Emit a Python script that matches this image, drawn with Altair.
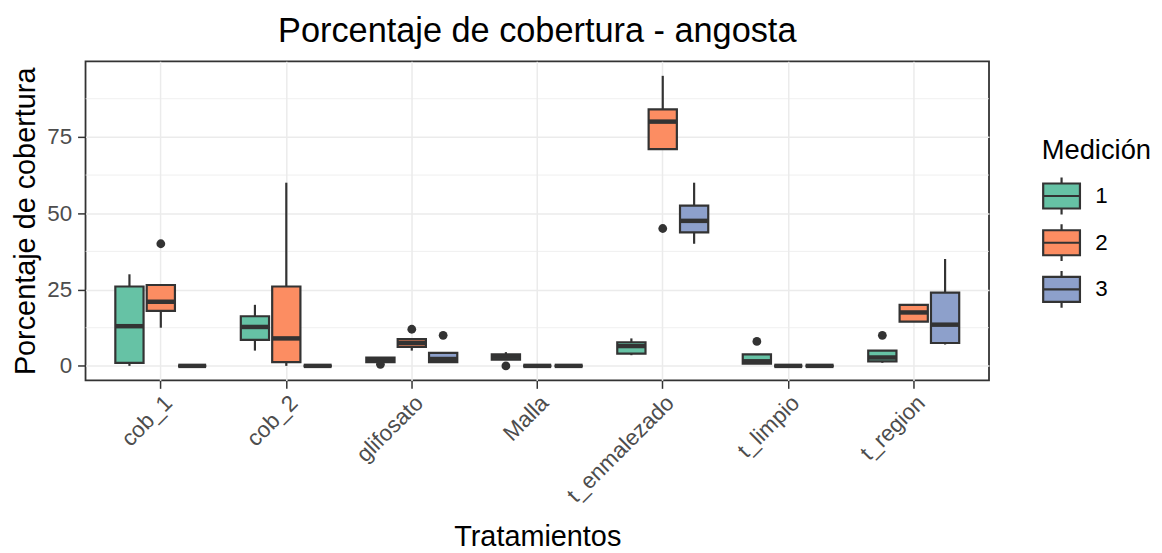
import altair as alt
import pandas as pd

tratamientos = ["cob_1", "cob_2", "glifosato", "Malla", "t_enmalezado", "t_limpio", "t_region"]
mediciones = ["1", "2", "3"]
colores = ["#66C2A5", "#FC8D62", "#8DA0CB"]

# one value per (tratamiento, medición), tratamiento-major order
bigote_inf = [0, 12.5, 0,   5, 0, 0,    1.25, 5, 1,     2, 0, 0,     3.5, 71, 40,     0.75, 0, 0,   1, 14.5, 7]
cuartil_1 = [1, 18, 0,     8.5, 1.25, 0, 1.25, 6.25, 1.25, 2, 0, 0,   4, 71, 43.75,    0.75, 0, 0,   1.5, 14.5, 7.5]
mediana = [13, 21, 0,      12.75, 9, 0,  2, 7.5, 2.25,   3, 0, 0,     6.5, 80, 47.5,   1.5, 0, 0,    2.75, 17.5, 13.5]
cuartil_3 = [26, 26.5, 0,  16.25, 26, 0, 2.75, 8.75, 4.25, 3.75, 0, 0, 7.75, 84, 52.5,   3.75, 0, 0,   5, 20, 24]
bigote_sup = [30, 26.5, 0, 20, 60, 0,    2.75, 8.75, 4.25, 4.5, 0, 0,  9, 95, 60,       3.75, 0, 0,   5, 20, 35]

atipico_trat = ["cob_1", "glifosato", "glifosato", "glifosato", "Malla", "t_enmalezado", "t_limpio", "t_region"]
atipico_med = ["2", "1", "2", "3", "1", "2", "1", "1"]
atipico_val = [40, 0.5, 12, 10, 0, 45, 8, 10]

y_ticks = [0, 25, 50, 75]
y_minor = [12.5, 37.5, 62.5, 87.5]

rows = []
i = 0
for t in tratamientos:
    for m in mediciones:
        rows.append(dict(trat=t, med=m, lo=bigote_inf[i], q1=cuartil_1[i],
                         mid=mediana[i], q3=cuartil_3[i], hi=bigote_sup[i]))
        i += 1
cajas = pd.DataFrame(rows)
atipicos = pd.DataFrame(dict(trat=atipico_trat, med=atipico_med, val=atipico_val))
menor = pd.DataFrame(dict(v=y_minor))

FONT = "Liberation Sans"
DARK = "#333333"

y_scale = alt.Scale(domain=[-4.75, 99.75], nice=False, zero=False)
y_axis = alt.Axis(values=y_ticks, grid=True, gridColor="#EBEBEB", gridWidth=1.5,
                  domain=False, tickColor=DARK, tickSize=8, tickWidth=1.5,
                  labelFontSize=22.5, labelColor="#4D4D4D", labelPadding=6, labelFont=FONT,
                  title="Porcentaje de cobertura", titleFontSize=29, titleFontWeight="normal",
                  titleColor="black", titlePadding=6, titleFont=FONT)
x_scale = alt.Scale(domain=tratamientos, paddingInner=0.25, paddingOuter=0.225)
x_axis = alt.Axis(labelAngle=-45, labelAlign="right", labelBaseline="top",
                  labelFontSize=22.5, labelColor="#4D4D4D", labelPadding=3, labelFont=FONT,
                  grid=True, gridColor="#EBEBEB", gridWidth=1.5, bandPosition=0.5,
                  domain=False, tickColor=DARK, tickSize=8, tickWidth=1.5,
                  title="Tratamientos", titleFontSize=29, titleFontWeight="normal",
                  titleColor="black", titlePadding=16, titleFont=FONT)
xo_scale = alt.Scale(domain=mediciones, paddingInner=0.1, paddingOuter=0.05)

X = alt.X("trat:N", scale=x_scale, axis=x_axis, sort=tratamientos)
XO = alt.XOffset("med:N", scale=xo_scale, sort=mediciones)

grid_minor = alt.Chart(menor).mark_rule(color="#EBEBEB", strokeWidth=0.8).encode(
    y=alt.Y("v:Q", scale=y_scale, axis=y_axis)
)

base = alt.Chart(cajas)
whisk_lo = base.mark_rule(color=DARK, strokeWidth=2.2).encode(
    x=X, xOffset=XO, y=alt.Y("lo:Q", scale=y_scale, axis=y_axis), y2="q1:Q")
whisk_hi = base.mark_rule(color=DARK, strokeWidth=2.2).encode(
    x=X, xOffset=XO, y=alt.Y("q3:Q", scale=y_scale, axis=y_axis), y2="hi:Q")
boxes = base.mark_bar(stroke=DARK, strokeWidth=2.2, opacity=1).encode(
    x=X, xOffset=XO, y=alt.Y("q1:Q", scale=y_scale, axis=y_axis), y2="q3:Q",
    color=alt.Color("med:N", scale=alt.Scale(domain=mediciones, range=colores),
                    legend=alt.Legend(title="Medición", orient="none", legendX=962, legendY=76,
                                      titleFontSize=27.5, titleFontWeight="normal", titleColor="black",
                                      titleFont=FONT, titlePadding=12,
                                      labelFontSize=22.5, labelColor="black", labelFont=FONT,
                                      labelOffset=14, rowPadding=1,
                                      symbolType="M-1,-0.68H1V0.68H-1Z M0,-1V-0.68 M0,0.68V1 M-1,0H1",
                                      symbolSize=1369, symbolStrokeColor=DARK, symbolStrokeWidth=2.2,
                                      symbolOpacity=1)))
medians = base.mark_tick(color=DARK, thickness=4.5, size=28, opacity=1, orient="horizontal").encode(
    x=X, xOffset=XO, y=alt.Y("mid:Q", scale=y_scale, axis=y_axis))
outl = alt.Chart(atipicos).mark_circle(color=DARK, size=78, opacity=1).encode(
    x=X, xOffset=XO, y=alt.Y("val:Q", scale=y_scale, axis=y_axis))

chart = alt.layer(grid_minor, whisk_lo, whisk_hi, boxes, medians, outl).properties(
    width=909, height=321,
    title=alt.TitleParams("Porcentaje de cobertura - angosta", fontSize=34.5, font=FONT,
                          fontWeight="normal", color="black", anchor="middle", offset=12),
    autosize=alt.AutoSizeParams(type="none"),
    padding={"left": 78, "top": 52, "right": 166, "bottom": 170},
).configure(background="white").configure_view(stroke=DARK, strokeWidth=1.8)

chart.save("out.html", embed_options={"renderer": "svg", "actions": False})
